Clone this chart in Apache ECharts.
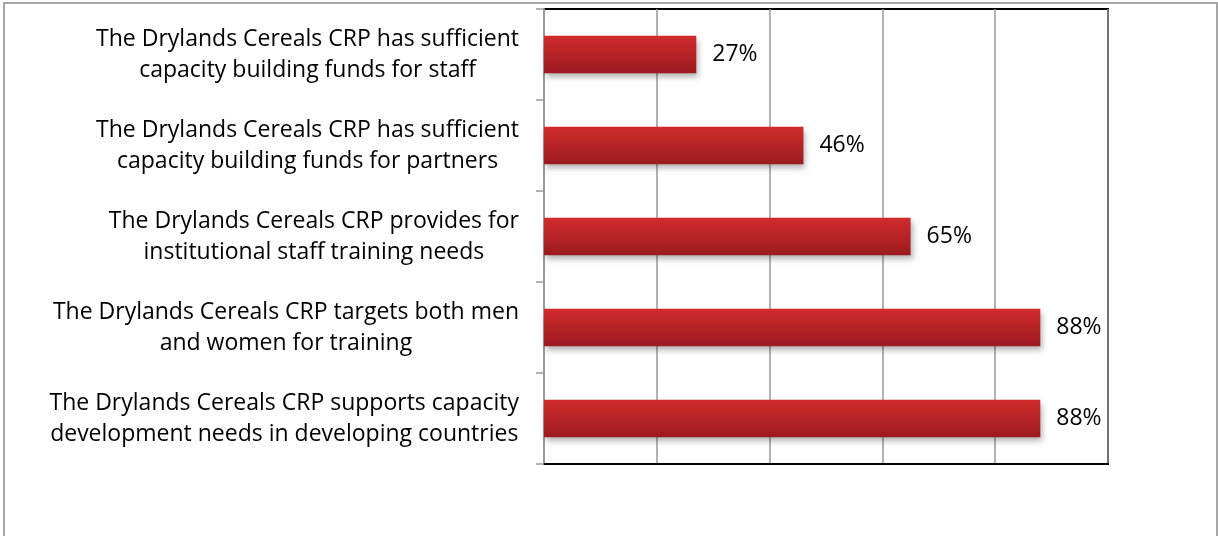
<!DOCTYPE html>
<html>
<head>
<meta charset="utf-8">
<script src="https://cdn.jsdelivr.net/npm/echarts@6/dist/echarts.min.js"></script>
<style>
html, body { margin: 0; padding: 0; background: #fff; }
#chart { width: 1218px; height: 536px; }
</style>
</head>
<body>
<div id="chart"></div>
<script>
// statements, top to bottom
var categories = [
  'The Drylands Cereals CRP has sufficient\ncapacity building funds for staff',
  'The Drylands Cereals CRP has sufficient\ncapacity building funds for partners',
  'The Drylands Cereals CRP provides for\ninstitutional staff training needs',
  'The Drylands Cereals CRP targets both men\nand women for training',
  'The Drylands Cereals CRP supports capacity\ndevelopment needs in developing countries'
];
var values = [27, 46, 65, 88, 88];

var chart = echarts.init(document.getElementById('chart'));
var fontFam = 'Open Sans';

var option = {
  animation: false,
  backgroundColor: '#fff',
  graphic: [{
    type: 'rect',
    shape: { x: 4, y: 3, width: 1213, height: 600 },
    style: { fill: 'none', stroke: '#a6a6a6', lineWidth: 2 },
    silent: true
  }],
  grid: {
    left: 544, top: 9, right: 110, bottom: 72,
    show: true,
    borderColor: '#000',
    borderWidth: 2,
    backgroundColor: 'transparent'
  },
  xAxis: {
    type: 'value',
    min: 0, max: 100, interval: 20,
    axisLine: { show: true, lineStyle: { color: '#000', width: 2 } },
    axisTick: { show: false },
    axisLabel: { show: false },
    splitLine: { show: true, lineStyle: { color: '#9a9a9a', width: 1.5 } }
  },
  yAxis: {
    type: 'category',
    inverse: true,
    data: categories,
    axisLine: { show: true, lineStyle: { color: '#9a9a9a', width: 2 } },
    axisTick: { show: true, inside: false, length: 8, lineStyle: { color: '#9a9a9a', width: 1.5 } },
    axisLabel: {
      margin: 25,
      align: 'right',
      formatter: function (v) {
        return v.split('\n').map(function (s) { return '{c|' + s + '}'; }).join('\n');
      },
      rich: {
        c: { align: 'center', fontFamily: fontFam, fontSize: 23, lineHeight: 31, color: '#000' }
      }
    }
  },
  series: [{
    type: 'bar',
    data: values,
    barCategoryGap: '59%',
    itemStyle: {
      color: new echarts.graphic.LinearGradient(0, 0, 0, 1, [
        { offset: 0, color: '#d12c2b' },
        { offset: 1, color: '#9b1a20' }
      ]),
      shadowColor: 'rgba(0,0,0,0.3)',
      shadowBlur: 6,
      shadowOffsetX: 2,
      shadowOffsetY: 4
    },
    label: {
      show: true,
      position: 'right',
      distance: 16,
      formatter: '{c}%',
      fontFamily: fontFam,
      fontSize: 23,
      color: '#000'
    }
  }]
};
chart.setOption(option);
</script>
</body>
</html>
